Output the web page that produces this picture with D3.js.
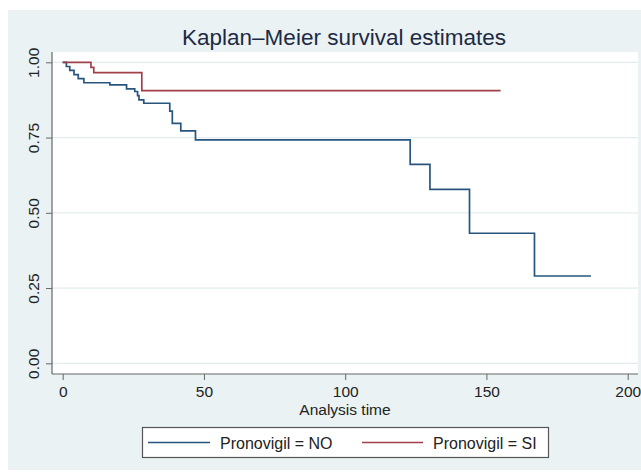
<!DOCTYPE html>
<html>
<head>
<meta charset="utf-8">
<script src="https://cdn.jsdelivr.net/npm/d3@7"></script>
<style>
  body { margin: 0; background: #fff; }
  text { font-family: "Liberation Sans", Arial, sans-serif; }
</style>
</head>
<body>
<div id="chart"></div>
<script>
// Kaplan-Meier step data
const noTimes = [0, 1.3, 2.5, 4, 5.5, 7.5, 16.7, 22.6, 25.5, 26.5, 27, 28.7, 37.9, 38.8, 41.8, 47, 123, 130, 144, 167, 187];
const noSurv  = [1, 0.986, 0.973, 0.959, 0.946, 0.932, 0.925, 0.912, 0.903, 0.889, 0.875, 0.864, 0.838, 0.797, 0.772, 0.742, 0.661, 0.578, 0.432, 0.290, 0.290];
const siTimes = [0, 10, 11, 28, 155];
const siSurv  = [1, 0.983, 0.966, 0.906, 0.906];

const xTicks = [0, 50, 100, 150, 200];
const yTicks = [0, 0.25, 0.5, 0.75, 1];
const seriesNames = ["Pronovigil = NO", "Pronovigil = SI"];

const WIDTH = 641, HEIGHT = 472;
const BG = "#eaf2f3";
const BLUE = "#28557f", RED = "#a0414a";

// plot region
const PLOT = { left: 52, right: 638, top: 52, bottom: 374 };

var svg = d3.select("#chart")
  .append("svg")
  .attr("width", WIDTH)
  .attr("height", HEIGHT);

svg.append("rect")
  .attr("x", 8).attr("y", 10)
  .attr("width", WIDTH - 8).attr("height", 460)
  .attr("fill", BG);

svg.append("rect")
  .attr("x", PLOT.left).attr("y", PLOT.top)
  .attr("width", PLOT.right - PLOT.left).attr("height", PLOT.bottom - PLOT.top)
  .attr("fill", "#fff");

var x = d3.scaleLinear().domain([0, 200]).range([62.7, 627.7]);
var y = d3.scaleLinear().domain([0, 1]).range([363.3, 62.3]);

// gridlines
svg.append("g")
  .selectAll("line")
  .data(yTicks)
  .enter().append("line")
  .attr("x1", PLOT.left).attr("x2", PLOT.right)
  .attr("y1", function(d) { return y(d); })
  .attr("y2", function(d) { return y(d); })
  .attr("stroke", "#e3ecee")
  .attr("stroke-width", 1.2);

// axes
var xAxis = svg.append("g")
  .attr("transform", "translate(0," + PLOT.bottom + ")")
  .call(d3.axisBottom(x).tickValues(xTicks).tickSize(6).tickPadding(6).tickFormat(d3.format("d")));

var yAxis = svg.append("g")
  .attr("transform", "translate(" + PLOT.left + ",0)")
  .call(d3.axisLeft(y).tickValues(yTicks).tickSize(6).tickFormat(d3.format(".2f")));

xAxis.select(".domain").remove();
yAxis.select(".domain").remove();

xAxis.selectAll("text")
  .attr("font-size", 15.5)
  .attr("fill", "#222")
  .attr("font-family", "Liberation Sans, Arial, sans-serif");

yAxis.selectAll("text")
  .attr("font-size", 15.5)
  .attr("fill", "#222")
  .attr("font-family", "Liberation Sans, Arial, sans-serif")
  .attr("text-anchor", "middle")
  .attr("x", 0).attr("dy", 0)
  .attr("transform", "translate(-13,0) rotate(-90)");

svg.selectAll(".tick line").attr("stroke", "#666");

svg.append("line")
  .attr("x1", PLOT.left).attr("x2", PLOT.left)
  .attr("y1", PLOT.top).attr("y2", PLOT.bottom)
  .attr("stroke", "#666").attr("stroke-width", 1.2);

svg.append("line")
  .attr("x1", PLOT.left).attr("x2", PLOT.right)
  .attr("y1", PLOT.bottom).attr("y2", PLOT.bottom)
  .attr("stroke", "#666").attr("stroke-width", 1.2);

// survival curves
var step = d3.line()
  .x(function(d) { return x(d[0]); })
  .y(function(d) { return y(d[1]); })
  .curve(d3.curveStepAfter);

svg.append("path")
  .attr("d", step(d3.zip(noTimes, noSurv)))
  .attr("fill", "none")
  .attr("stroke", BLUE)
  .attr("stroke-width", 1.7);

svg.append("path")
  .attr("d", step(d3.zip(siTimes, siSurv)))
  .attr("fill", "none")
  .attr("stroke", RED)
  .attr("stroke-width", 1.7);

// titles
svg.append("text")
  .attr("x", 344).attr("y", 45)
  .attr("text-anchor", "middle")
  .attr("font-size", 22.5)
  .attr("fill", "#1e2a44")
  .text("Kaplan\u2013Meier survival estimates");

svg.append("text")
  .attr("x", 345).attr("y", 415)
  .attr("text-anchor", "middle")
  .attr("font-size", 15.5)
  .attr("fill", "#222")
  .text("Analysis time");

// legend
var legend = svg.append("g");

legend.append("rect")
  .attr("x", 142.5).attr("y", 427.5)
  .attr("width", 406).attr("height", 30)
  .attr("fill", "#fff")
  .attr("stroke", "#555")
  .attr("stroke-width", 1.2);

var legendItems = [
  { name: seriesNames[0], color: BLUE, x1: 148, x2: 210, tx: 220 },
  { name: seriesNames[1], color: RED, x1: 362, x2: 423, tx: 433 }
];

legendItems.forEach(function(item) {
  legend.append("line")
    .attr("x1", item.x1).attr("x2", item.x2)
    .attr("y1", 442.5).attr("y2", 442.5)
    .attr("stroke", item.color)
    .attr("stroke-width", 1.6);
  legend.append("text")
    .attr("x", item.tx).attr("y", 448.5)
    .attr("font-size", 16)
    .attr("fill", "#222")
    .text(item.name);
});
</script>
</body>
</html>
